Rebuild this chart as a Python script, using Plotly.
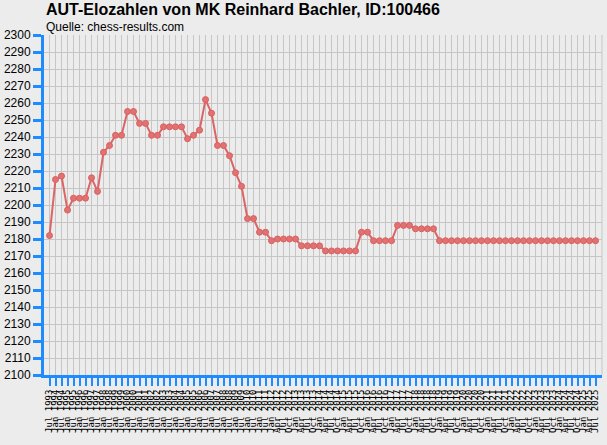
import plotly.graph_objects as go

dates = [
    "Jul 1993", "Jan 1994", "Jul 1994", "Jan 1995", "Jul 1995", "Jan 1996", "Jul 1996",
    "Jan 1997", "Jul 1997", "Jan 1998", "Jul 1998", "Jan 1999", "Jul 1999", "Jan 2000",
    "Jul 2000", "Jan 2001", "Jul 2001", "Jan 2002", "Jul 2002", "Jan 2003", "Jul 2003",
    "Jan 2004", "Jul 2004", "Jan 2005", "Jul 2005", "Jan 2006", "Jul 2006", "Jan 2007",
    "Jul 2007", "Jan 2008", "Jul 2008", "Jan 2009", "Jul 2009", "Jan 2010", "Jul 2010",
    "Jan 2011", "Jul 2011", "Jan 2012",
    "Apr 2012", "Jul 2012", "Oct 2012",
    "Jan 2013", "Apr 2013", "Jul 2013", "Oct 2013",
    "Jan 2014", "Apr 2014", "Jul 2014", "Oct 2014",
    "Jan 2015", "Apr 2015", "Jul 2015", "Oct 2015",
    "Jan 2016", "Apr 2016", "Jul 2016", "Oct 2016",
    "Jan 2017", "Apr 2017", "Jul 2017", "Oct 2017",
    "Jan 2018", "Apr 2018", "Jul 2018", "Oct 2018",
    "Jan 2019", "Apr 2019", "Jul 2019", "Oct 2019",
    "Jan 2020", "Apr 2020", "Jul 2020", "Oct 2020",
    "Jan 2021", "Apr 2021", "Jul 2021", "Oct 2021",
    "Jan 2022", "Apr 2022", "Jul 2022", "Oct 2022",
    "Jan 2023", "Apr 2023", "Jul 2023", "Oct 2023",
    "Jan 2024", "Apr 2024", "Jul 2024", "Oct 2024",
    "Jan 2025", "Apr 2025", "Jul 2025",
]

elo = [
    2182, 2215, 2217, 2197, 2204, 2204, 2204, 2216, 2208, 2231,
    2235, 2241, 2241, 2255, 2255, 2248, 2248, 2241, 2241, 2246,
    2246, 2246, 2246, 2239, 2241, 2244, 2262, 2254, 2235, 2235,
    2229, 2219, 2211, 2192, 2192, 2184, 2184, 2179, 2180, 2180,
    2180, 2180, 2176, 2176, 2176, 2176, 2173, 2173, 2173, 2173,
    2173, 2173, 2184, 2184, 2179, 2179, 2179, 2179, 2188, 2188,
    2188, 2186, 2186, 2186, 2186, 2179, 2179, 2179, 2179, 2179,
    2179, 2179, 2179, 2179, 2179, 2179, 2179, 2179, 2179, 2179,
    2179, 2179, 2179, 2179, 2179, 2179, 2179, 2179, 2179, 2179,
    2179, 2179,
]

y_ticks = list(range(2100, 2301, 10))

idx = list(range(len(dates)))
BLUE = "#1e8cff"
BG = "#ececec"
GRID = "#c6c6c6"

fig = go.Figure()
fig.add_trace(go.Scatter(
    x=idx, y=elo, mode="lines+markers",
    line=dict(color="#dc6464", width=2),
    marker=dict(size=6, color="#e27272", line=dict(color="#d86060", width=1)),
    hoverinfo="skip", showlegend=False,
))

fig.update_layout(
    width=607, height=445,
    margin=dict(l=44, r=5, t=35, b=70),
    paper_bgcolor=BG, plot_bgcolor=BG,
    font=dict(family="Liberation Sans, Arial, sans-serif", color="#000000"),
    xaxis=dict(
        range=[-0.92, 92.08], automargin=False,
        tickmode="array", tickvals=idx, ticktext=dates,
        tickangle=-90, tickfont=dict(family="DejaVu Sans Mono", size=9, color="#000000"),
        ticks="outside", ticklen=8, tickwidth=2, tickcolor=BLUE,
        showline=True, linecolor=BLUE, linewidth=3,
        showgrid=True, gridcolor=GRID, gridwidth=1,
        zeroline=False, fixedrange=True,
    ),
    yaxis=dict(
        range=[2100, 2300], automargin=False,
        tickmode="array", tickvals=y_ticks, ticktext=[str(v) for v in y_ticks],
        tickfont=dict(size=12, color="#000000"),
        ticks="outside", ticklen=8, tickwidth=3, tickcolor=BLUE,
        showline=True, linecolor=BLUE, linewidth=3,
        showgrid=True, gridcolor=GRID, gridwidth=1,
        zeroline=False, fixedrange=True,
    ),
    shapes=[dict(type="line", xref="paper", yref="paper", x0=1, x1=1, y0=0, y1=1,
                 line=dict(color=GRID, width=1), layer="below")],
    annotations=[
        dict(text="<b>AUT-Elozahlen von MK Reinhard Bachler, ID:100466</b>",
             xref="paper", yref="paper", x=0, y=1, xanchor="left", yanchor="bottom",
             xshift=0, yshift=15, showarrow=False,
             font=dict(size=16, family="Liberation Sans, Arial, sans-serif", color="#000000")),
        dict(text="Quelle: chess-results.com",
             xref="paper", yref="paper", x=0, y=1, xanchor="left", yanchor="bottom",
             xshift=0, yshift=-1, showarrow=False,
             font=dict(size=12, family="Liberation Sans, Arial, sans-serif", color="#000000")),
    ],
)

fig.write_html(
    "out.html",
    config={"displayModeBar": False},
    post_script="document.body.style.margin='0';document.body.style.background='#ececec';",
)
